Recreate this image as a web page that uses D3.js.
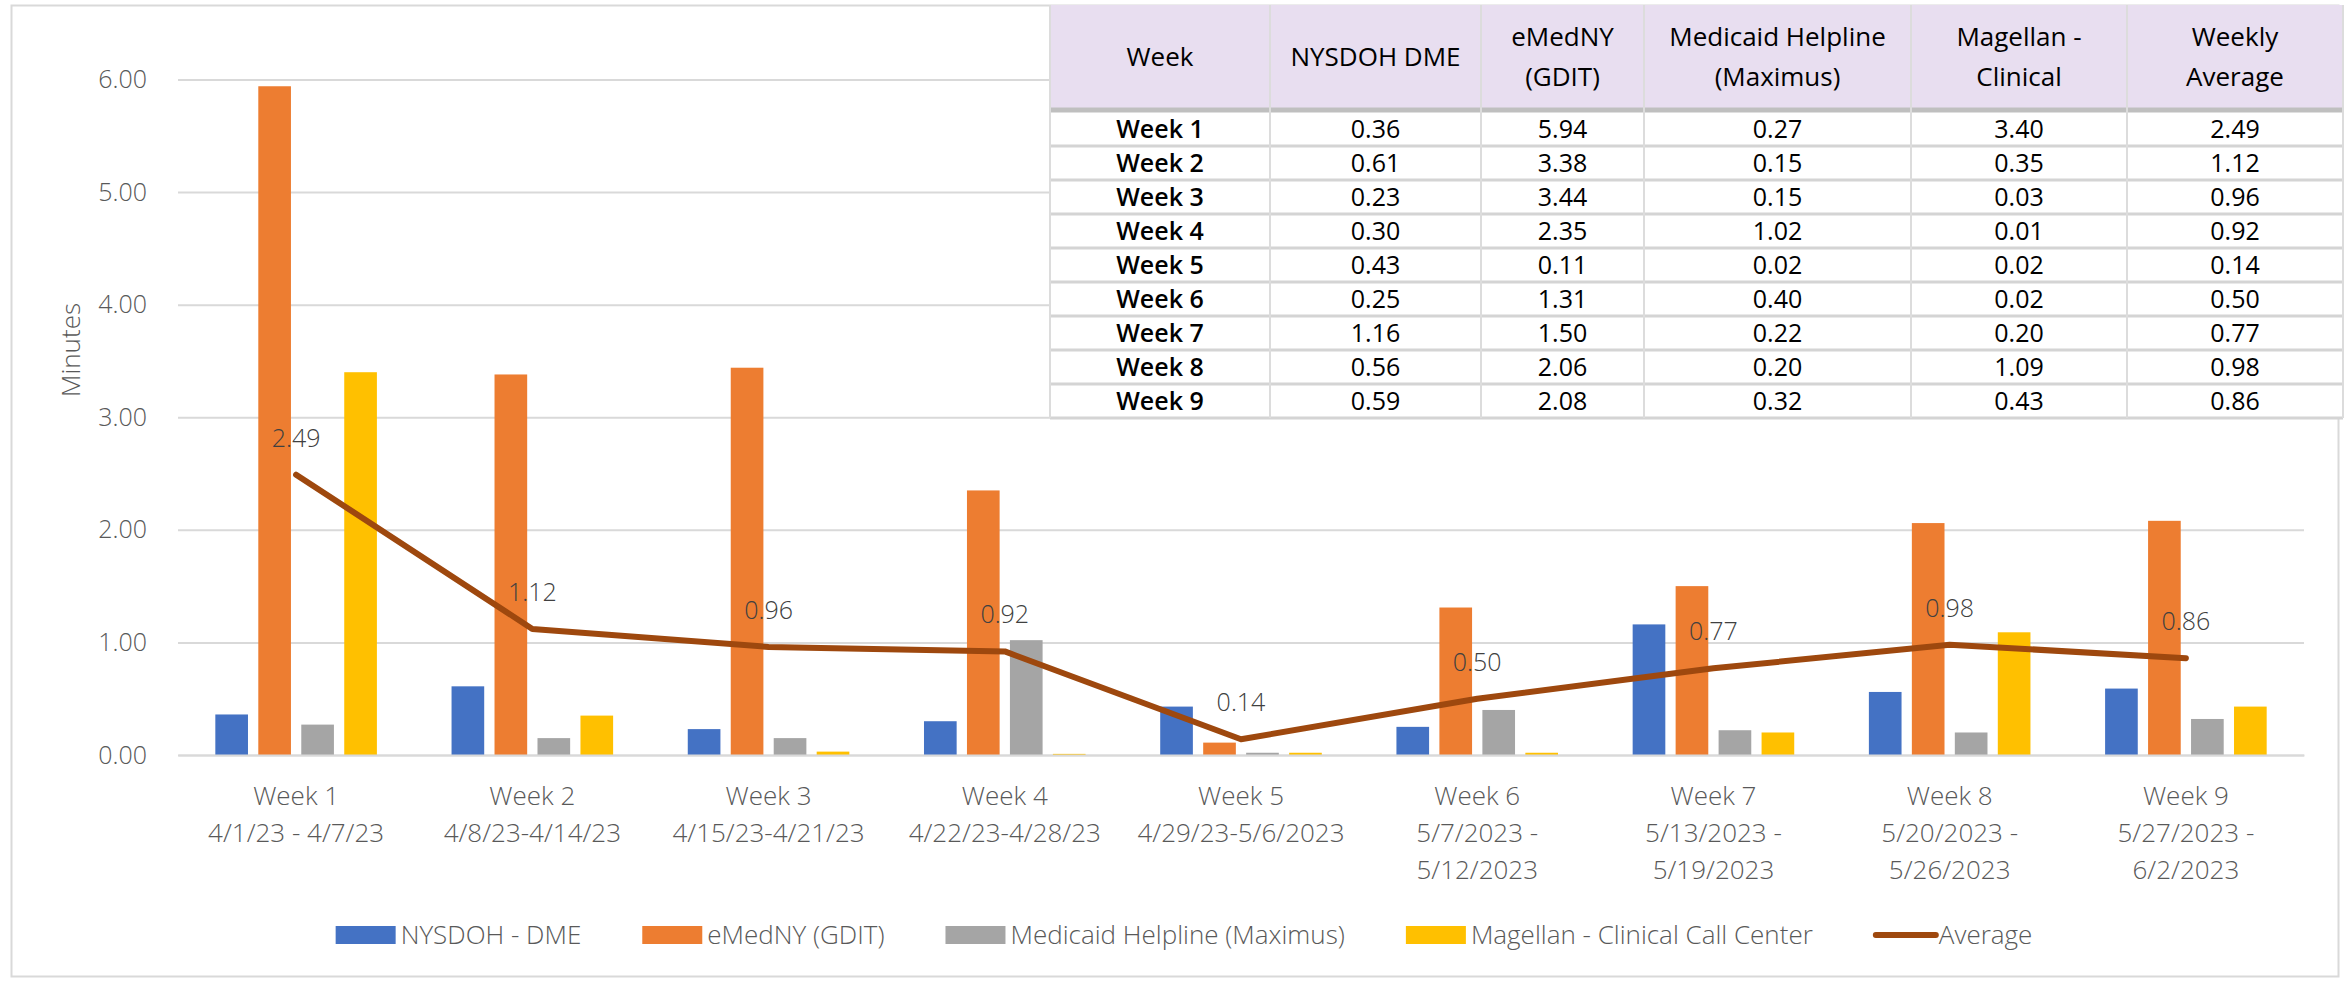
<!DOCTYPE html>
<html>
<head>
<meta charset="utf-8">
<script src="https://cdn.jsdelivr.net/npm/d3@7"></script>
<style>
  body { margin: 0; background: #fff; }
  svg text { font-family: 'Open Sans', sans-serif; }
</style>
</head>
<body>
<script>
const weeks = ["Week 1", "Week 2", "Week 3", "Week 4", "Week 5", "Week 6", "Week 7", "Week 8", "Week 9"];
const dateLines = [
  ["4/1/23 - 4/7/23"], ["4/8/23-4/14/23"], ["4/15/23-4/21/23"], ["4/22/23-4/28/23"],
  ["4/29/23-5/6/2023"], ["5/7/2023 -", "5/12/2023"], ["5/13/2023 -", "5/19/2023"],
  ["5/20/2023 -", "5/26/2023"], ["5/27/2023 -", "6/2/2023"]
];
const nysdoh   = [0.36, 0.61, 0.23, 0.30, 0.43, 0.25, 1.16, 0.56, 0.59];
const emedny   = [5.94, 3.38, 3.44, 2.35, 0.11, 1.31, 1.50, 2.06, 2.08];
const helpline = [0.27, 0.15, 0.15, 1.02, 0.02, 0.40, 0.22, 0.20, 0.32];
const magellan = [3.40, 0.35, 0.03, 0.01, 0.02, 0.02, 0.20, 1.09, 0.43];
const average  = [2.49, 1.12, 0.96, 0.92, 0.14, 0.50, 0.77, 0.98, 0.86];
const seriesNames = ["NYSDOH - DME", "eMedNY (GDIT)", "Medicaid Helpline (Maximus)", "Magellan - Clinical Call Center"];
const lineName = "Average";
const yTicks = [0, 1, 2, 3, 4, 5, 6];
const tableHeaders = [["Week"], ["NYSDOH DME"], ["eMedNY", "(GDIT)"], ["Medicaid Helpline", "(Maximus)"], ["Magellan -", "Clinical"], ["Weekly", "Average"]];

const colors = ["#4472C4", "#ED7D31", "#A5A5A5", "#FFC000"];
const lineColor = "#9E480E";
const seriesValues = [nysdoh, emedny, helpline, magellan];

const W = 2351, H = 981;
const plot = {left: 178, right: 2304, top: 79.5, bottom: 755};

const svg = d3.select("body").append("svg")
  .attr("width", W)
  .attr("height", H);

// chart frame
svg.append("rect")
  .attr("x", 11.5).attr("y", 5.5)
  .attr("width", 2327).attr("height", 971)
  .attr("fill", "#fff")
  .attr("stroke", "#D9D9D9")
  .attr("stroke-width", 2);

const x0 = d3.scaleBand()
  .domain(weeks)
  .range([plot.left, plot.right])
  .paddingInner(0.316)
  .paddingOuter(0.158);

const x1 = d3.scaleBand()
  .domain(seriesNames)
  .range([0, x0.bandwidth()])
  .paddingInner(0.24);

const y = d3.scaleLinear()
  .domain([0, 6])
  .range([plot.bottom, plot.top]);

// y axis with gridlines
const yAxis = svg.append("g")
  .attr("transform", `translate(${plot.left},0)`)
  .call(d3.axisLeft(y).tickValues(yTicks).tickFormat(d3.format(".2f")).tickSize(-(plot.right - plot.left)).tickPadding(31));
yAxis.select(".domain").remove();
yAxis.selectAll(".tick line").attr("stroke", "#D9D9D9").attr("stroke-width", 2);
yAxis.selectAll(".tick text")
  .attr("font-size", 25)
  .attr("font-weight", 300)
  .attr("fill", "#595959");

svg.append("text")
  .attr("transform", `translate(80,350) rotate(-90)`)
  .attr("text-anchor", "middle")
  .attr("font-size", 26)
  .attr("font-weight", 300)
  .attr("fill", "#595959")
  .text("Minutes");

// bars
const groups = svg.append("g").selectAll("g")
  .data(weeks)
  .join("g")
  .attr("transform", d => `translate(${x0(d)},0)`);

groups.selectAll("rect")
  .data((d, i) => seriesNames.map((s, k) => ({s, v: seriesValues[k][i], k})))
  .join("rect")
  .attr("x", d => x1(d.s))
  .attr("y", d => y(d.v))
  .attr("width", x1.bandwidth())
  .attr("height", d => y(0) - y(d.v))
  .attr("fill", d => colors[d.k]);

// x labels
const xAxis = svg.append("g")
  .attr("transform", `translate(0,${plot.bottom})`)
  .call(d3.axisBottom(x0).tickSize(0).tickFormat(""));
xAxis.select(".domain").attr("stroke", "#D9D9D9").attr("stroke-width", 2);
xAxis.selectAll(".tick").each(function(d, i) {
  const t = d3.select(this).append("text")
    .attr("text-anchor", "middle")
    .attr("font-size", 26)
    .attr("font-weight", 300)
    .attr("fill", "#595959");
  [d].concat(dateLines[i]).forEach((ln, j) => {
    t.append("tspan").attr("x", 0).attr("y", 50 + j * 37).text(ln);
  });
});

// average line
const cx = d => x0(d) + x0.bandwidth() / 2;
const line = d3.line()
  .x((d, i) => cx(weeks[i]))
  .y(d => y(d));

svg.append("path")
  .datum(average)
  .attr("fill", "none")
  .attr("stroke", lineColor)
  .attr("stroke-width", 6)
  .attr("stroke-linecap", "round")
  .attr("stroke-linejoin", "round")
  .attr("d", line);

svg.append("g").selectAll("text")
  .data(average)
  .join("text")
  .attr("x", (d, i) => cx(weeks[i]))
  .attr("y", d => y(d) - 28)
  .attr("text-anchor", "middle")
  .attr("font-size", 25)
  .attr("font-weight", 300)
  .attr("fill", "#404040")
  .text(d => d3.format(".2f")(d));

// legend, centred in the frame
const legend = svg.append("g").attr("transform", "translate(0,935)");
const items = seriesNames.map((s, k) => ({name: s, color: colors[k], type: "bar"}))
  .concat([{name: lineName, color: lineColor, type: "line"}]);
let lx = 0;
const li = legend.selectAll("g").data(items).join("g");
li.each(function(d) {
  const g = d3.select(this);
  if (d.type === "bar") {
    g.append("rect").attr("x", 0).attr("y", -9).attr("width", 60).attr("height", 18).attr("fill", d.color);
  } else {
    g.append("line").attr("x1", 2).attr("x2", 62).attr("y1", 0).attr("y2", 0)
      .attr("stroke", d.color).attr("stroke-width", 6).attr("stroke-linecap", "round");
  }
  const t = g.append("text").attr("x", 65).attr("y", 9).attr("font-size", 26).attr("font-weight", 300)
    .attr("fill", "#595959").text(d.name);
  const w = 65 + t.node().getComputedTextLength();
  g.attr("transform", `translate(${lx},0)`);
  lx += w + 61;
});
const legendW = lx - 61;
legend.attr("transform", `translate(${1184 - legendW / 2},935)`);

// data table, top right
const colEdges = [1050, 1270, 1481, 1644, 1911, 2127, 2343];
const tableTop = 5, headBottom = 110;
const rowY = d3.scaleBand().domain(weeks).range([headBottom + 2, 418]);
const table = svg.append("g");
const rows = weeks.map((w, i) => [w, nysdoh[i], emedny[i], helpline[i], magellan[i], average[i]]);

table.append("rect")
  .attr("x", colEdges[0]).attr("y", tableTop)
  .attr("width", colEdges[6] - colEdges[0]).attr("height", 418 - tableTop)
  .attr("fill", "#fff");
table.append("rect")
  .attr("x", colEdges[0]).attr("y", tableTop)
  .attr("width", colEdges[6] - colEdges[0]).attr("height", headBottom - tableTop)
  .attr("fill", "#E8DEF0");

// row separators
table.selectAll("line.row")
  .data(weeks)
  .join("line")
  .attr("class", "row")
  .attr("x1", colEdges[0]).attr("x2", colEdges[6])
  .attr("y1", d => rowY(d) + rowY.bandwidth())
  .attr("y2", d => rowY(d) + rowY.bandwidth())
  .attr("stroke", "#D4D4D4").attr("stroke-width", 3);
table.append("line")
  .attr("x1", colEdges[0]).attr("x2", colEdges[6])
  .attr("y1", headBottom).attr("y2", headBottom)
  .attr("stroke", "#BFBFBF").attr("stroke-width", 5);
table.selectAll("line.col")
  .data(colEdges)
  .join("line")
  .attr("class", "col")
  .attr("x1", d => d).attr("x2", d => d)
  .attr("y1", tableTop).attr("y2", 418)
  .attr("stroke", "#DCDCDC").attr("stroke-width", 2);

// header text
tableHeaders.forEach((lines, c) => {
  const mid = (colEdges[c] + colEdges[c + 1]) / 2;
  const t = table.append("text")
    .attr("text-anchor", "middle")
    .attr("font-size", 26)
    .attr("fill", "#000");
  lines.forEach((ln, j) => {
    const yy = lines.length === 1 ? 66 : 46 + j * 40;
    t.append("tspan").attr("x", mid).attr("y", yy).text(ln);
  });
});

// body text
rows.forEach((r, i) => {
  r.forEach((v, c) => {
    table.append("text")
      .attr("x", (colEdges[c] + colEdges[c + 1]) / 2)
      .attr("y", rowY(weeks[i]) + rowY.bandwidth() / 2 + 9)
      .attr("text-anchor", "middle")
      .attr("font-size", 25)
      .attr("font-weight", c === 0 ? 600 : 400)
      .attr("fill", "#000")
      .text(c === 0 ? v : d3.format(".2f")(v));
  });
});
</script>
</body>
</html>
